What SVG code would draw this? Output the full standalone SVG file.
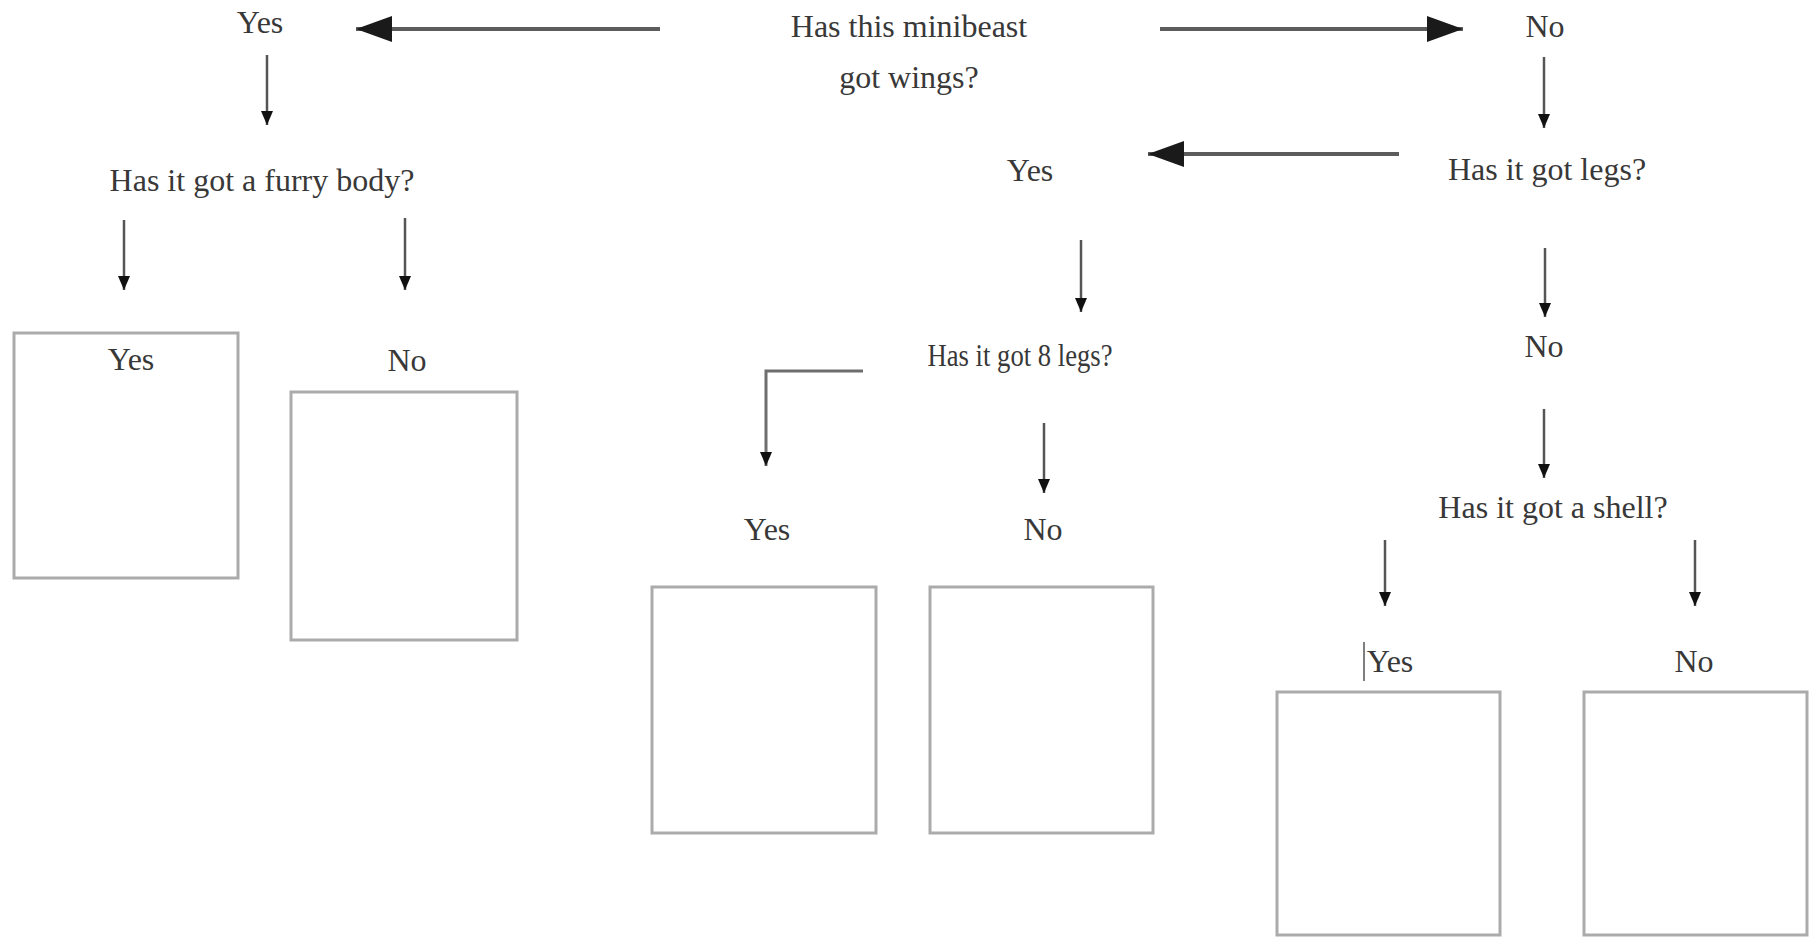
<svg xmlns="http://www.w3.org/2000/svg" width="1820" height="937" viewBox="0 0 1820 937">
  <defs>
    <style>
      .t { font-family: "Liberation Serif", "Times New Roman", serif; font-size: 32px; fill: #383838; text-anchor: middle; }
      .box { fill: none; stroke: #ababab; stroke-width: 3; }
      .thick { fill: none; stroke: #5c5c5c; stroke-width: 4; }
      .thin { fill: none; stroke: #555; stroke-width: 2.5; }
      .bent { fill: none; stroke: #6e6e6e; stroke-width: 3; }
    </style>
    <marker id="bigArrow" markerUnits="userSpaceOnUse" markerWidth="36" markerHeight="26" refX="36" refY="13" orient="auto">
      <path d="M0,0 L36,13 L0,26 Z" fill="#1a1a1a"/>
    </marker>
    <marker id="smallArrow" markerUnits="userSpaceOnUse" markerWidth="14" markerHeight="12" refX="14" refY="6" orient="auto">
      <path d="M0,0 L14,6 L0,12 Z" fill="#111"/>
    </marker>
  </defs>
  <rect width="1820" height="937" fill="#fff"/>

  <g id="connectors">
    <line class="thick" x1="660" y1="29" x2="356" y2="29" marker-end="url(#bigArrow)"/>
    <line class="thick" x1="1160" y1="29" x2="1463" y2="29" marker-end="url(#bigArrow)"/>
    <line class="thick" x1="1399" y1="154" x2="1148" y2="154" marker-end="url(#bigArrow)"/>
    <line class="thin" x1="267" y1="55" x2="267" y2="125" marker-end="url(#smallArrow)"/>
    <line class="thin" x1="124" y1="220" x2="124" y2="290" marker-end="url(#smallArrow)"/>
    <line class="thin" x1="405" y1="218" x2="405" y2="290" marker-end="url(#smallArrow)"/>
    <line class="thin" x1="1544" y1="57" x2="1544" y2="128" marker-end="url(#smallArrow)"/>
    <line class="thin" x1="1545" y1="248" x2="1545" y2="317" marker-end="url(#smallArrow)"/>
    <line class="thin" x1="1544" y1="409" x2="1544" y2="478" marker-end="url(#smallArrow)"/>
    <line class="thin" x1="1385" y1="540" x2="1385" y2="606" marker-end="url(#smallArrow)"/>
    <line class="thin" x1="1695" y1="540" x2="1695" y2="606" marker-end="url(#smallArrow)"/>
    <line class="thin" x1="1081" y1="240" x2="1081" y2="312" marker-end="url(#smallArrow)"/>
    <line class="thin" x1="1044" y1="423" x2="1044" y2="493" marker-end="url(#smallArrow)"/>
    <path class="bent" d="M863,371 H766 V466" marker-end="url(#smallArrow)"/>
  </g>

  <g id="q-wings">
    <text class="t" x="909" y="37">Has this minibeast</text>
    <text class="t" x="909" y="88">got wings?</text>
  </g>
  <g id="wings-yes"><text class="t" x="260" y="33">Yes</text></g>
  <g id="wings-no"><text class="t" x="1545" y="37">No</text></g>
  <g id="q-furry"><text class="t" x="262" y="191">Has it got a furry body?</text></g>
  <g id="furry-yes">
    <rect class="box" x="14" y="333" width="224" height="245"/>
    <text class="t" x="131" y="370">Yes</text>
  </g>
  <g id="furry-no">
    <text class="t" x="407" y="371">No</text>
    <rect class="box" x="291" y="392" width="226" height="248"/>
  </g>
  <g id="q-legs"><text class="t" x="1547" y="180">Has it got legs?</text></g>
  <g id="legs-yes"><text class="t" x="1030" y="181">Yes</text></g>
  <g id="q-8legs"><text class="t" x="1020" y="366" style="font-size:31px" textLength="185" lengthAdjust="spacingAndGlyphs">Has it got 8 legs?</text></g>
  <g id="8legs-yes">
    <text class="t" x="767" y="540">Yes</text>
    <rect class="box" x="652" y="587" width="224" height="246"/>
  </g>
  <g id="8legs-no">
    <text class="t" x="1043" y="540">No</text>
    <rect class="box" x="930" y="587" width="223" height="246"/>
  </g>
  <g id="legs-no"><text class="t" x="1544" y="357">No</text></g>
  <g id="q-shell"><text class="t" x="1553" y="518">Has it got a shell?</text></g>
  <g id="shell-yes">
    <line x1="1364" y1="642" x2="1364" y2="681" stroke="#555" stroke-width="1.5"/>
    <text class="t" x="1390" y="672">Yes</text>
    <rect class="box" x="1277" y="692" width="223" height="243"/>
  </g>
  <g id="shell-no">
    <text class="t" x="1694" y="672">No</text>
    <rect class="box" x="1584" y="692" width="223" height="243"/>
  </g>
</svg>
